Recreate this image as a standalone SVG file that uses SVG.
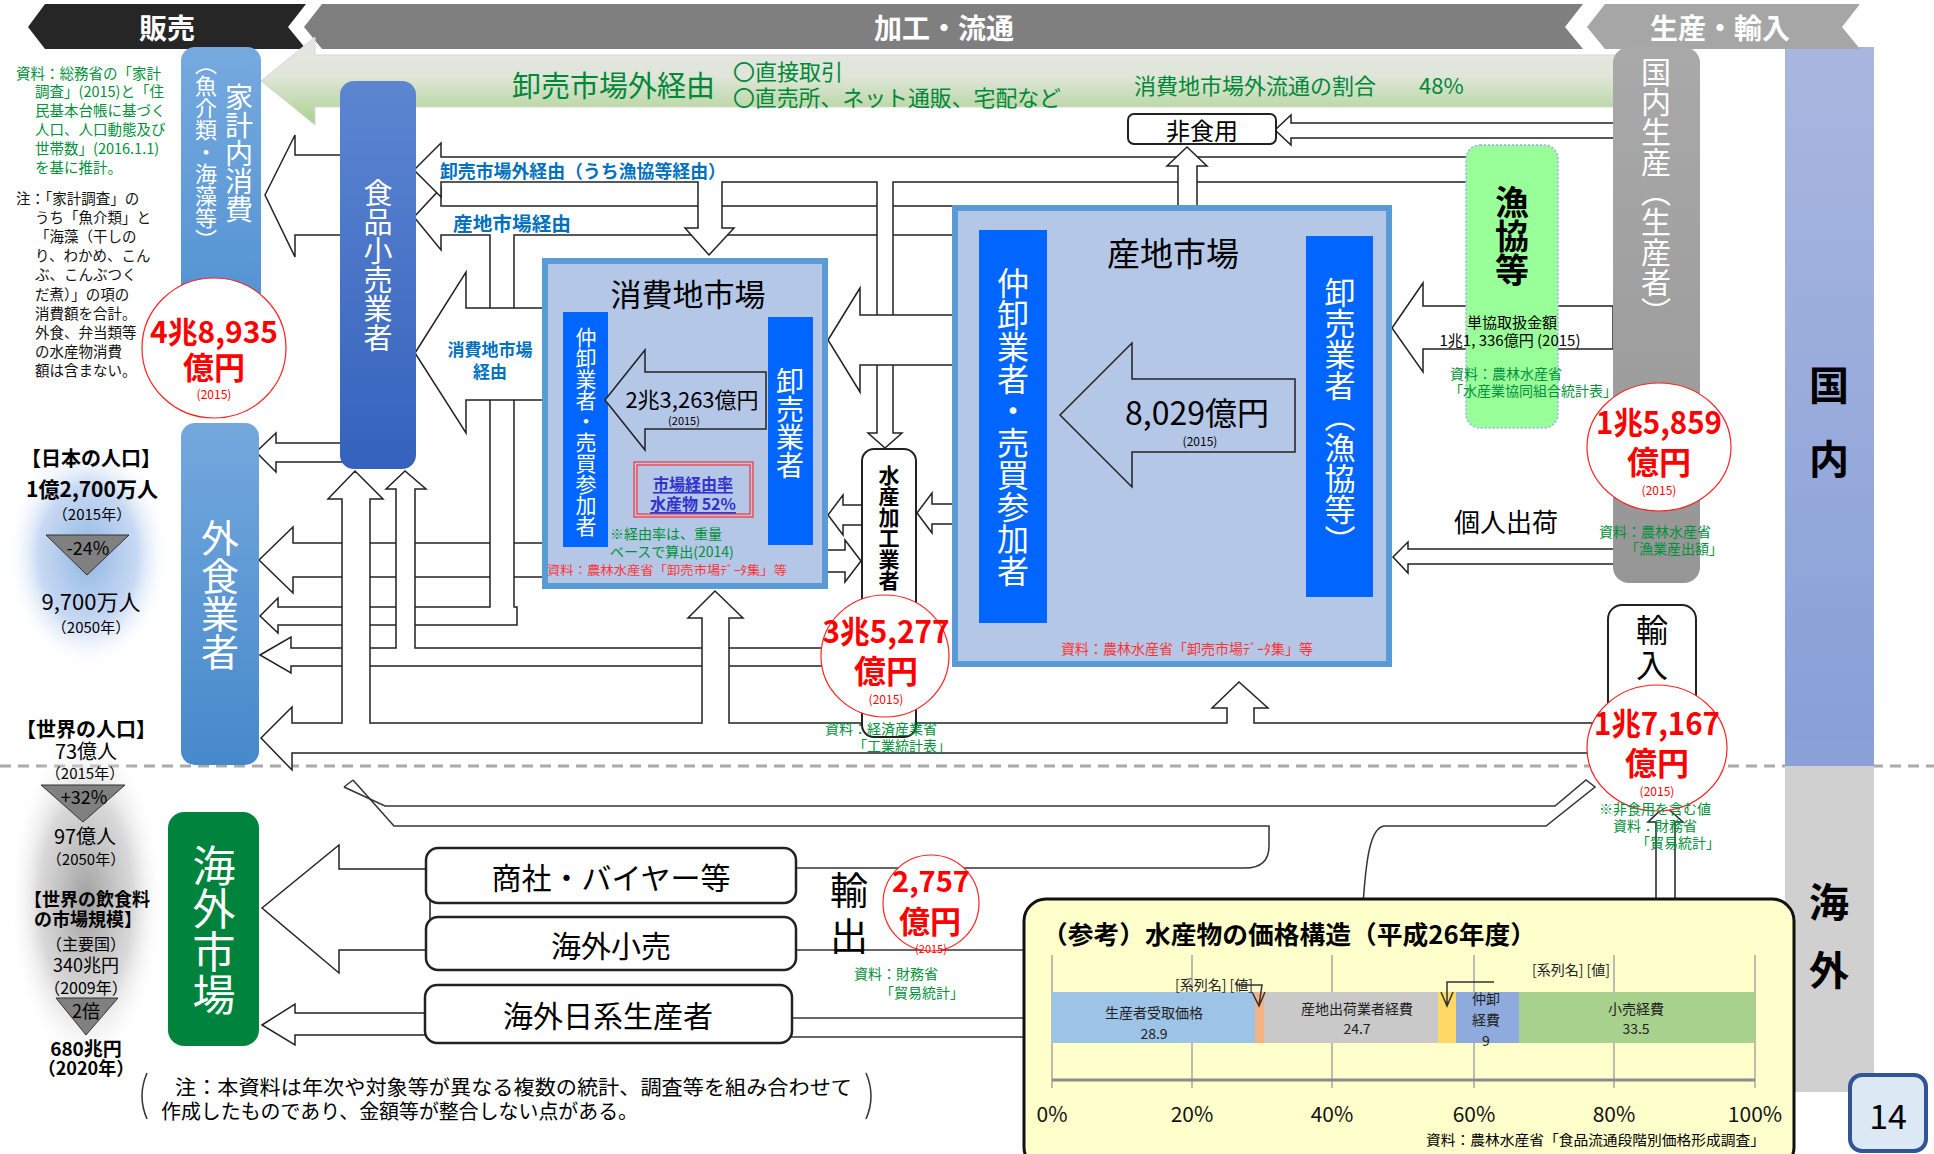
<svg xmlns="http://www.w3.org/2000/svg" width="1934" height="1154" viewBox="0 0 1934 1154">
<defs>
<linearGradient id="gBand" x1="0" y1="0" x2="0" y2="1"><stop offset="0" stop-color="#e6e6e6"/><stop offset="0.45" stop-color="#dfe6d8"/><stop offset="1" stop-color="#a8d08d"/></linearGradient>
<linearGradient id="gKakei" x1="0" y1="0" x2="0" y2="1"><stop offset="0" stop-color="#76aadf"/><stop offset="1" stop-color="#4f90d2"/></linearGradient>
<linearGradient id="gGaishoku" x1="0" y1="0" x2="0" y2="1"><stop offset="0" stop-color="#74a8dd"/><stop offset="1" stop-color="#4689cb"/></linearGradient>
<linearGradient id="gKouri" x1="0" y1="0" x2="0" y2="1"><stop offset="0" stop-color="#5d86d1"/><stop offset="1" stop-color="#3462bd"/></linearGradient>
<linearGradient id="gSeisan" x1="0" y1="0" x2="0" y2="1"><stop offset="0" stop-color="#a9a9a9"/><stop offset="1" stop-color="#969696"/></linearGradient>
<linearGradient id="gKokunai" x1="0" y1="0" x2="0" y2="1"><stop offset="0" stop-color="#a9b7df"/><stop offset="1" stop-color="#879fd7"/></linearGradient>
<radialGradient id="gGlowB" cx="0.5" cy="0.5" r="0.5"><stop offset="0" stop-color="#8fb4e3"/><stop offset="0.6" stop-color="#b9cff0" stop-opacity="0.8"/><stop offset="1" stop-color="#ffffff" stop-opacity="0"/></radialGradient>
<radialGradient id="gGlowG" cx="0.5" cy="0.5" r="0.5"><stop offset="0" stop-color="#a0a0a0"/><stop offset="0.6" stop-color="#cfcfcf" stop-opacity="0.8"/><stop offset="1" stop-color="#ffffff" stop-opacity="0"/></radialGradient>
</defs>
<style>
.t{font-family:"Noto Sans CJK JP","Noto Sans",sans-serif}
.v{writing-mode:vertical-rl}
.fl{fill:#fff;stroke:#222;stroke-width:1.5;stroke-linejoin:miter}
.ln{fill:none;stroke:#333;stroke-width:1.5}
.w{fill:#fff}
.b{font-weight:bold}
.red{fill:#ff0000}
.grn{fill:#00913a}
.blu{fill:#0070c0}
.circ{fill:#fff;stroke:#ff2020;stroke-width:1.2}
.mk{fill:#b4c7e7;stroke:#5b9bd5;stroke-width:6}
.inner{fill:#0066ff}
.pill{stroke:none}
</style>

<!-- background bands -->
<g id="bands">
<rect x="1785" y="47" width="89" height="719" fill="url(#gKokunai)"/>
<rect x="1785" y="766" width="89" height="326" fill="#d0d0d0"/>
<line x1="0" y1="766" x2="1934" y2="766" stroke="#aaaaaa" stroke-width="3" stroke-dasharray="11,7"/>
<rect x="1785" y="760" width="89" height="12" fill="#d0d0d0"/>
<rect x="1785" y="740" width="89" height="26" fill="#8aa1d8"/>
<text class="t b" x="1829" y="383" font-size="40" text-anchor="middle" dominant-baseline="central">国</text>
<text class="t b" x="1829" y="457" font-size="40" text-anchor="middle" dominant-baseline="central">内</text>
<text class="t b" x="1829" y="900" font-size="40" text-anchor="middle" dominant-baseline="central">海</text>
<text class="t b" x="1829" y="968" font-size="40" text-anchor="middle" dominant-baseline="central">外</text>
</g>

<!-- glows -->
<g id="glows">
<ellipse cx="88" cy="555" rx="82" ry="115" fill="url(#gGlowB)"/>
<ellipse cx="86" cy="900" rx="78" ry="170" fill="url(#gGlowG)"/>
</g>

<!-- top banners -->
<g id="banner-hanbai">
<polygon points="45,4 306,4 288,27 306,49 45,49 28,27" fill="#262626"/>
<text class="t b w" x="167" y="27" font-size="28" text-anchor="middle" dominant-baseline="central">販売</text>
</g>
<g id="banner-kakou">
<polygon points="322,4 1583,4 1565,27 1583,49 322,49 304,27" fill="#7f7f7f"/>
<text class="t b w" x="944" y="27" font-size="28" text-anchor="middle" dominant-baseline="central">加工・流通</text>
</g>
<g id="banner-seisan">
<polygon points="1605,4 1860,4 1842,27 1860,49 1605,49 1587,27" fill="#a6a6a6"/>
<text class="t b w" x="1720" y="27" font-size="28" text-anchor="middle" dominant-baseline="central">生産・輸入</text>
</g>

<!-- connectors -->
<g id="connectors">
<polygon points="261,81 315,37 315,55 1616,55 1616,107 315,107 315,125" fill="url(#gBand)" stroke="#d8d8d8" stroke-width="1"/>
<polygon class="fl" points="265,195 295,135 295,155 345,155 345,235 295,235 295,257"/>
<polygon class="fl" points="256,452 276,433 276,443 345,443 345,462 276,462 276,472"/>
<polygon class="fl" points="259,560 293,527 293,543 545,543 545,577 293,577 293,593"/>
<polygon class="fl" points="414,217 441,188 441,206 955,206 955,235 514,235 514,607 517,607 517,625 278,625 278,633 260,616 278,598 278,607 490,607 490,235 441,235 441,250"/>
<polygon class="fl" points="415,353 466,272 466,308 545,308 545,400 466,400 466,433"/>
<polygon class="fl" points="414,170 441,143 441,157 1470,157 1470,182 893,182 893,433 902,433 885,448 868,433 877,433 877,182 722,182 722,228 734,228 709,255 685,228 698,228 698,182 441,182 441,197"/>
<polygon class="fl" points="828,340 860,288 860,315 955,315 955,365 860,365 860,392"/>
<polygon class="fl" points="828,515 843,495 843,505 864,505 864,525 843,525 843,535"/>
<polygon class="fl" points="861,561 845,540 845,550 826,550 826,572 845,572 845,582"/>
<polygon class="fl" points="917,513 932,493 932,504 955,504 955,524 932,524 932,533"/>
<polygon class="fl" points="260,655 291,637 291,648 396,648 396,489 386,489 405,471 426,489 415,489 415,648 864,648 864,666 291,666 291,673"/>
<polygon class="fl" points="261,738 292,707 292,723 342,723 342,499 328,499 355,471 383,499 370,499 370,723 702,723 702,618 688,618 715,591 743,618 729,618 729,723 1227,723 1227,708 1212,708 1239,682 1268,708 1254,708 1254,723 1598,723 1598,753 292,753 292,770"/>
<polygon class="fl" points="1275,130 1291,115 1291,123 1616,123 1616,138 1291,138 1291,145"/>
<polygon class="fl" points="1187,147 1207,166 1197,166 1197,207 1178,207 1178,166 1167,166"/>
<polygon class="fl" points="1392,328 1423,283 1423,306 1613,306 1613,349 1423,349 1423,372"/>
<polygon class="fl" points="1393,557 1408,542 1408,549 1616,549 1616,564 1408,564 1408,573"/>
<polygon class="fl" points="1665,806 1683,822 1675,822 1675,905 1656,905 1656,822 1648,822"/>
<path class="ln" d="M344,787 L385,806 L1555,806 L1586,780 L1595,787 L1546,826 L1384,826 C1370,828 1366,860 1363,905"/>
<path class="ln" d="M344,787 L353,780 M353,780 L394,826 L1269,826 L1269,846 Q1269,868 1245,868 L795,868"/>
<line class="ln" x1="795" y1="950" x2="1030" y2="950"/>
<line class="ln" x1="790" y1="1018" x2="1030" y2="1018"/>
<line class="ln" x1="790" y1="1037" x2="1030" y2="1037"/>
<polygon class="fl" points="262,908 339,845 339,869 430,869 430,950 339,950 339,973"/>
<polygon class="fl" points="262,1025 295,1004 295,1013 430,1013 430,1035 295,1035 295,1045"/>
</g>

<!-- arrow labels -->
<g id="labels">
<text class="t" x="512" y="84" font-size="29" fill="#00883a" dominant-baseline="central">卸売市場外経由</text>
<text class="t" x="733" y="70" font-size="22" fill="#00883a" dominant-baseline="central">〇直接取引</text>
<text class="t" x="733" y="96" font-size="22" fill="#00883a" dominant-baseline="central" textLength="328" lengthAdjust="spacingAndGlyphs">〇直売所、ネット通販、宅配など</text>
<text class="t" x="1134" y="84" font-size="22" fill="#00883a" dominant-baseline="central">消費地市場外流通の割合</text>
<text class="t" x="1419" y="84" font-size="22" fill="#00883a" dominant-baseline="central">48%</text>
<text class="t b blu" x="440" y="170" font-size="18" dominant-baseline="central" textLength="286" lengthAdjust="spacingAndGlyphs">卸売市場外経由（うち漁協等経由）</text>
<text class="t b blu" x="453" y="222" font-size="19" dominant-baseline="central" textLength="118" lengthAdjust="spacingAndGlyphs">産地市場経由</text>
<text class="t b blu" x="490" y="348" font-size="17" text-anchor="middle" dominant-baseline="central">消費地市場</text>
<text class="t b blu" x="490" y="370" font-size="17" text-anchor="middle" dominant-baseline="central">経由</text>
<text class="t" x="1506" y="520" font-size="26" text-anchor="middle" dominant-baseline="central">個人出荷</text>
</g>

<!-- pillars -->
<g id="node-kakei">
<rect class="pill" x="181" y="47" width="80" height="290" rx="14" fill="url(#gKakei)"/>
<text class="t v w" x="239" y="153" font-size="28" text-anchor="middle">家計内消費</text>
<text class="t v w" x="206" y="152" font-size="22" text-anchor="middle">（魚介類・海藻等）</text>
</g>
<g id="node-kouri">
<rect class="pill" x="340" y="81" width="76" height="388" rx="14" fill="url(#gKouri)"/>
<text class="t v w" x="378" y="265" font-size="29" text-anchor="middle">食品小売業者</text>
</g>
<g id="node-gaishoku">
<rect class="pill" x="181" y="423" width="78" height="342" rx="14" fill="url(#gGaishoku)"/>
<text class="t v w" x="220" y="595" font-size="38" text-anchor="middle">外食業者</text>
</g>
<g id="node-kaigai">
<rect class="pill" x="168" y="812" width="91" height="234" rx="16" fill="#00843d"/>
<text class="t v w" x="214" y="930" font-size="43" text-anchor="middle">海外市場</text>
</g>
<g id="node-kokunai-seisan">
<rect class="pill" x="1613" y="47" width="87" height="536" rx="16" fill="url(#gSeisan)"/>
<text class="t v w" x="1656" y="192" font-size="30" text-anchor="middle">国内生産（生産者）</text>
</g>

<!-- 漁協等 -->
<g id="node-gyokyo">
<rect x="1466" y="145" width="92" height="283" rx="14" fill="#99ff99" stroke="#a0a8ff" stroke-width="1.5" stroke-dasharray="2,2"/>
<text class="t v b" x="1512" y="236" font-size="34" text-anchor="middle">漁協等</text>
<text class="t" x="1512" y="321" font-size="15" text-anchor="middle" dominant-baseline="central">単協取扱金額</text>
<text class="t" x="1510" y="339" font-size="15" text-anchor="middle" dominant-baseline="central">1兆1, 336億円 (2015)</text>
<text class="t grn" x="1450" y="373" font-size="14" dominant-baseline="central">資料：農林水産省</text>
<text class="t grn" x="1449" y="390" font-size="14" dominant-baseline="central">「水産業協同組合統計表」</text>
</g>

<!-- 非食用 -->
<g id="node-hishokuyou">
<rect x="1128" y="114" width="148" height="30" rx="6" fill="#fff" stroke="#222" stroke-width="2"/>
<text class="t" x="1202" y="129" font-size="24" text-anchor="middle" dominant-baseline="central">非食用</text>
</g>

<!-- 消費地市場 -->
<g id="node-shohichi">
<rect class="mk" x="545" y="261" width="280" height="325"/>
<text class="t" x="688" y="292" font-size="31" text-anchor="middle" dominant-baseline="central">消費地市場</text>
<rect class="inner" x="563" y="312" width="45" height="235"/>
<text class="t v w" x="586" y="432" font-size="21" text-anchor="middle">仲卸業者・売買参加者</text>
<rect class="inner" x="768" y="317" width="45" height="228"/>
<text class="t v w" x="790" y="423" font-size="28" text-anchor="middle">卸売業者</text>
<polygon points="605,400 645,350 645,372 766,372 766,429 645,429 645,450" fill="#b4c7e7" stroke="#222" stroke-width="1.5"/>
<text class="t" x="692" y="398" font-size="22" text-anchor="middle" dominant-baseline="central">2兆3,263億円</text>
<text class="t" x="684" y="420" font-size="11" text-anchor="middle" dominant-baseline="central">(2015)</text>
<rect x="634" y="462" width="119" height="55" fill="none" stroke="#ff3030" stroke-width="1.2"/>
<rect x="637" y="465" width="113" height="49" fill="none" stroke="#ff3030" stroke-width="1.2"/>
<text class="t b" x="693" y="483" font-size="16" fill="#3333cc" text-anchor="middle" dominant-baseline="central" text-decoration="underline">市場経由率</text>
<text class="t b" x="693" y="503" font-size="16" fill="#3333cc" text-anchor="middle" dominant-baseline="central" text-decoration="underline">水産物 52%</text>
<text class="t grn" x="610" y="533" font-size="14" dominant-baseline="central">※経由率は、重量</text>
<text class="t grn" x="610" y="551" font-size="14" dominant-baseline="central">ベースで算出(2014)</text>
<text class="t" x="547" y="569" font-size="12" fill="#ff3333" dominant-baseline="central" textLength="240" lengthAdjust="spacingAndGlyphs">資料：農林水産省「卸売市場ﾃﾞｰﾀ集」等</text>
</g>

<!-- 産地市場 -->
<g id="node-sanchi">
<rect class="mk" x="955" y="208" width="434" height="456"/>
<text class="t" x="1173" y="252" font-size="33" text-anchor="middle" dominant-baseline="central">産地市場</text>
<rect class="inner" x="979" y="230" width="68" height="393"/>
<text class="t v w" x="1013" y="427" font-size="32" text-anchor="middle">仲卸業者・売買参加者</text>
<rect class="inner" x="1306" y="236" width="67" height="361"/>
<text class="t v w" x="1340" y="416" font-size="31" text-anchor="middle">卸売業者（漁協等）</text>
<polygon points="1060,415 1132,343 1132,379 1295,379 1295,452 1132,452 1132,487" fill="#b4c7e7" stroke="#222" stroke-width="1.5"/>
<text class="t" x="1197" y="411" font-size="32" text-anchor="middle" dominant-baseline="central">8,029億円</text>
<text class="t" x="1200" y="440" font-size="12" text-anchor="middle" dominant-baseline="central">(2015)</text>
<text class="t" x="1187" y="648" font-size="14" fill="#ff3333" text-anchor="middle" dominant-baseline="central">資料：農林水産省「卸売市場ﾃﾞｰﾀ集」等</text>
</g>

<!-- 水産加工業者 -->
<g id="node-suisan-kakou">
<rect x="862" y="449" width="54" height="288" rx="12" fill="#fff" stroke="#222" stroke-width="2"/>
<text class="t v b" x="889" y="528" font-size="21" text-anchor="middle">水産加工業者</text>
</g>

<!-- 輸入 -->
<g id="node-yunyu">
<rect x="1608" y="605" width="88" height="115" rx="14" fill="#fff" stroke="#222" stroke-width="2"/>
<text class="t" x="1652" y="628" font-size="32" text-anchor="middle" dominant-baseline="central">輸</text>
<text class="t" x="1652" y="663" font-size="32" text-anchor="middle" dominant-baseline="central">入</text>
</g>

<!-- overseas boxes -->
<g id="node-shousha">
<rect x="426" y="848" width="370" height="55" rx="12" fill="#fff" stroke="#222" stroke-width="2.5"/>
<text class="t" x="611" y="876" font-size="30" text-anchor="middle" dominant-baseline="central">商社・バイヤー等</text>
</g>
<g id="node-kaigai-kouri">
<rect x="426" y="917" width="370" height="53" rx="12" fill="#fff" stroke="#222" stroke-width="2.5"/>
<text class="t" x="611" y="944" font-size="30" text-anchor="middle" dominant-baseline="central">海外小売</text>
</g>
<g id="node-kaigai-nikkei">
<rect x="425" y="985" width="367" height="58" rx="12" fill="#fff" stroke="#222" stroke-width="2.5"/>
<text class="t" x="608" y="1014" font-size="30" text-anchor="middle" dominant-baseline="central">海外日系生産者</text>
</g>
<g id="node-yushutsu">
<text class="t" x="849" y="887" font-size="38" text-anchor="middle" dominant-baseline="central">輸</text>
<text class="t" x="849" y="933" font-size="38" text-anchor="middle" dominant-baseline="central">出</text>
</g>

<!-- value circles -->
<g id="circle-kakei">
<ellipse class="circ" cx="214" cy="348" rx="72" ry="70"/>
<text class="t b red" x="214" y="330" font-size="30" text-anchor="middle" dominant-baseline="central" textLength="128" lengthAdjust="spacingAndGlyphs">4兆8,935</text>
<text class="t b red" x="214" y="365" font-size="31" text-anchor="middle" dominant-baseline="central">億円</text>
<text class="t red" x="214" y="393" font-size="12" text-anchor="middle" dominant-baseline="central">(2015)</text>
</g>
<g id="circle-seisan">
<ellipse class="circ" cx="1659" cy="447" rx="72" ry="64"/>
<text class="t b red" x="1659" y="420" font-size="31" text-anchor="middle" dominant-baseline="central" textLength="126" lengthAdjust="spacingAndGlyphs">1兆5,859</text>
<text class="t b red" x="1659" y="460" font-size="32" text-anchor="middle" dominant-baseline="central">億円</text>
<text class="t red" x="1659" y="489" font-size="12" text-anchor="middle" dominant-baseline="central">(2015)</text>
<text class="t grn" x="1655" y="531" font-size="14" text-anchor="middle" dominant-baseline="central">資料：農林水産省</text>
<text class="t grn" x="1674" y="548" font-size="14" text-anchor="middle" dominant-baseline="central">「漁業産出額」</text>
</g>
<g id="circle-kakou">
<ellipse class="circ" cx="885" cy="656" rx="64" ry="61"/>
<text class="t b red" x="886" y="629" font-size="31" text-anchor="middle" dominant-baseline="central" textLength="127" lengthAdjust="spacingAndGlyphs">3兆5,277</text>
<text class="t b red" x="886" y="669" font-size="32" text-anchor="middle" dominant-baseline="central">億円</text>
<text class="t red" x="886" y="698" font-size="12" text-anchor="middle" dominant-baseline="central">(2015)</text>
<text class="t grn" x="881" y="728" font-size="14" text-anchor="middle" dominant-baseline="central">資料：経済産業省</text>
<text class="t grn" x="902" y="745" font-size="14" text-anchor="middle" dominant-baseline="central">「工業統計表」</text>
</g>
<g id="circle-yunyu">
<ellipse class="circ" cx="1657" cy="748" rx="70" ry="63"/>
<text class="t b red" x="1657" y="721" font-size="31" text-anchor="middle" dominant-baseline="central" textLength="126" lengthAdjust="spacingAndGlyphs">1兆7,167</text>
<text class="t b red" x="1657" y="761" font-size="32" text-anchor="middle" dominant-baseline="central">億円</text>
<text class="t red" x="1657" y="790" font-size="12" text-anchor="middle" dominant-baseline="central">(2015)</text>
<text class="t grn" x="1655" y="808" font-size="14" text-anchor="middle" dominant-baseline="central">※非食用を含む値</text>
<text class="t grn" x="1655" y="825" font-size="14" text-anchor="middle" dominant-baseline="central">資料：財務省</text>
<text class="t grn" x="1678" y="842" font-size="14" text-anchor="middle" dominant-baseline="central">「貿易統計」</text>
</g>
<g id="circle-yushutsu">
<ellipse class="circ" cx="931" cy="903" rx="48" ry="48"/>
<text class="t b red" x="931" y="879" font-size="29" text-anchor="middle" dominant-baseline="central" textLength="78" lengthAdjust="spacingAndGlyphs">2,757</text>
<text class="t b red" x="930" y="919" font-size="31" text-anchor="middle" dominant-baseline="central">億円</text>
<text class="t red" x="931" y="948" font-size="11" text-anchor="middle" dominant-baseline="central">(2015)</text>
<text class="t grn" x="896" y="973" font-size="14" text-anchor="middle" dominant-baseline="central">資料：財務省</text>
<text class="t grn" x="922" y="992" font-size="14" text-anchor="middle" dominant-baseline="central">「貿易統計」</text>
</g>

<!-- left notes -->
<g id="notes-left">
<text class="t grn" font-size="14.5" dominant-baseline="central">
<tspan x="16" y="72">資料：総務省の「家計</tspan>
<tspan x="35" y="90">調査」(2015)と「住</tspan>
<tspan x="35" y="109">民基本台帳に基づく</tspan>
<tspan x="35" y="128">人口、人口動態及び</tspan>
<tspan x="35" y="147">世帯数」(2016.1.1)</tspan>
<tspan x="35" y="166">を基に推計。</tspan>
</text>
<text class="t" font-size="14.5" dominant-baseline="central" fill="#111">
<tspan x="16" y="197">注：「家計調査」の</tspan>
<tspan x="35" y="216">うち「魚介類」と</tspan>
<tspan x="35" y="235">「海藻（干しの</tspan>
<tspan x="35" y="254">り、わかめ、こん</tspan>
<tspan x="35" y="273">ぶ、こんぶつく</tspan>
<tspan x="35" y="293">だ煮）」の項の</tspan>
<tspan x="35" y="312">消費額を合計。</tspan>
<tspan x="35" y="331">外食、弁当類等</tspan>
<tspan x="35" y="350">の水産物消費</tspan>
<tspan x="35" y="369">額は含まない。</tspan>
</text>
</g>

<!-- population -->
<g id="population">
<text class="t b" x="91" y="457" font-size="20" text-anchor="middle" dominant-baseline="central">【日本の人口】</text>
<text class="t b" x="92" y="488" font-size="21" text-anchor="middle" dominant-baseline="central">1億2,700万人</text>
<text class="t" x="92" y="513" font-size="15" text-anchor="middle" dominant-baseline="central">（2015年）</text>
<polygon points="46,535 129,535 87,575" fill="#808080" stroke="#333" stroke-width="1"/>
<text class="t" x="88" y="547" font-size="18" text-anchor="middle" dominant-baseline="central">-24%</text>
<text class="t" x="91" y="600" font-size="22" text-anchor="middle" dominant-baseline="central">9,700万人</text>
<text class="t" x="91" y="626" font-size="15" text-anchor="middle" dominant-baseline="central">（2050年）</text>
<text class="t b" x="86" y="728" font-size="20" text-anchor="middle" dominant-baseline="central">【世界の人口】</text>
<text class="t" x="86" y="750" font-size="20" text-anchor="middle" dominant-baseline="central">73億人</text>
<text class="t" x="85" y="772" font-size="15" text-anchor="middle" dominant-baseline="central">（2015年）</text>
<polygon points="41,785 125,785 83,822" fill="#808080" stroke="#333" stroke-width="1"/>
<text class="t" x="84" y="796" font-size="18" text-anchor="middle" dominant-baseline="central">+32%</text>
<text class="t" x="85" y="835" font-size="20" text-anchor="middle" dominant-baseline="central">97億人</text>
<text class="t" x="86" y="858" font-size="15" text-anchor="middle" dominant-baseline="central">（2050年）</text>
<text class="t b" x="87" y="898" font-size="18" text-anchor="middle" dominant-baseline="central">【世界の飲食料</text>
<text class="t b" x="88" y="918" font-size="18" text-anchor="middle" dominant-baseline="central">の市場規模】</text>
<text class="t" x="86" y="943" font-size="16" text-anchor="middle" dominant-baseline="central">（主要国）</text>
<text class="t" x="86" y="964" font-size="18" text-anchor="middle" dominant-baseline="central">340兆円</text>
<text class="t" x="86" y="987" font-size="16" text-anchor="middle" dominant-baseline="central">（2009年）</text>
<polygon points="56,998 118,998 86,1035" fill="#808080" stroke="#333" stroke-width="1"/>
<text class="t" x="86" y="1010" font-size="18" text-anchor="middle" dominant-baseline="central">2倍</text>
<text class="t b" x="86" y="1047" font-size="19" text-anchor="middle" dominant-baseline="central">680兆円</text>
<text class="t b" x="86" y="1067" font-size="18" text-anchor="middle" dominant-baseline="central">（2020年）</text>
</g>

<!-- bottom note -->
<g id="note-bottom">
<path class="ln" d="M147,1073 Q137,1096 147,1119"/>
<path class="ln" d="M866,1073 Q876,1096 866,1119"/>
<text class="t" x="175" y="1086" font-size="20" dominant-baseline="central" textLength="677" lengthAdjust="spacingAndGlyphs">注：本資料は年次や対象等が異なる複数の統計、調査等を組み合わせて</text>
<text class="t" x="161" y="1110" font-size="20" dominant-baseline="central" textLength="477" lengthAdjust="spacingAndGlyphs">作成したものであり、金額等が整合しない点がある。</text>
</g>

<!-- price structure -->
<g id="price-structure">
<rect x="1024" y="899" width="770" height="270" rx="22" fill="#ffffcc" stroke="#111" stroke-width="3"/>
<text class="t b" x="1042" y="933" font-size="25" dominant-baseline="central" textLength="494" lengthAdjust="spacingAndGlyphs">（参考）水産物の価格構造（平成26年度）</text>
<g stroke="#a6a6a6" stroke-width="1.5">
<line x1="1052" y1="955" x2="1052" y2="1088"/><line x1="1192" y1="955" x2="1192" y2="1088"/><line x1="1332" y1="955" x2="1332" y2="1088"/><line x1="1474" y1="955" x2="1474" y2="1088"/><line x1="1614" y1="955" x2="1614" y2="1088"/><line x1="1755" y1="955" x2="1755" y2="1088"/>
</g>
<line x1="1052" y1="1080" x2="1755" y2="1080" stroke="#8c8c8c" stroke-width="3"/>
<rect x="1052" y="992" width="203" height="51" fill="#9dc3e6"/>
<rect x="1255" y="992" width="9" height="51" fill="#f4b183"/>
<rect x="1264" y="992" width="174" height="51" fill="#c9c9c9"/>
<rect x="1438" y="992" width="18" height="51" fill="#ffd966"/>
<rect x="1456" y="992" width="63" height="51" fill="#8faadc"/>
<rect x="1519" y="992" width="236" height="51" fill="#a9d18e"/>
<g class="t" font-size="14" text-anchor="middle" dominant-baseline="central" fill="#222">
<text x="1154" y="1012">生産者受取価格</text><text x="1154" y="1033">28.9</text>
<text x="1357" y="1008">産地出荷業者経費</text><text x="1357" y="1028">24.7</text>
<text x="1486" y="998">仲卸</text><text x="1486" y="1019">経費</text><text x="1486" y="1040">9</text>
<text x="1636" y="1008">小売経費</text><text x="1636" y="1028">33.5</text>
<text x="1214" y="984">[系列名] [値]</text>
<text x="1571" y="969">[系列名] [値]</text>
</g>
<path class="ln" d="M1236,985 L1262,985 L1259,1005 M1252,992 L1259,1006 L1265,992"/>
<path class="ln" d="M1494,982 L1447,982 L1447,1005 M1441,992 L1447,1006 L1453,992"/>
<g class="t" font-size="21" text-anchor="middle" dominant-baseline="central" fill="#111">
<text x="1052" y="1113">0%</text><text x="1192" y="1113">20%</text><text x="1332" y="1113">40%</text><text x="1474" y="1113">60%</text><text x="1614" y="1113">80%</text><text x="1755" y="1113">100%</text>
</g>
<text class="t" x="1426" y="1139" font-size="14" dominant-baseline="central" textLength="339" lengthAdjust="spacingAndGlyphs">資料：農林水産省「食品流通段階別価格形成調査」</text>
</g>

<!-- page number -->
<g id="page-number">
<rect x="1850" y="1075" width="76" height="76" rx="12" fill="#dde8f5" stroke="#2f5597" stroke-width="4"/>
<text class="t" x="1888" y="1114" font-size="34" text-anchor="middle" dominant-baseline="central">14</text>
</g>
</svg>
